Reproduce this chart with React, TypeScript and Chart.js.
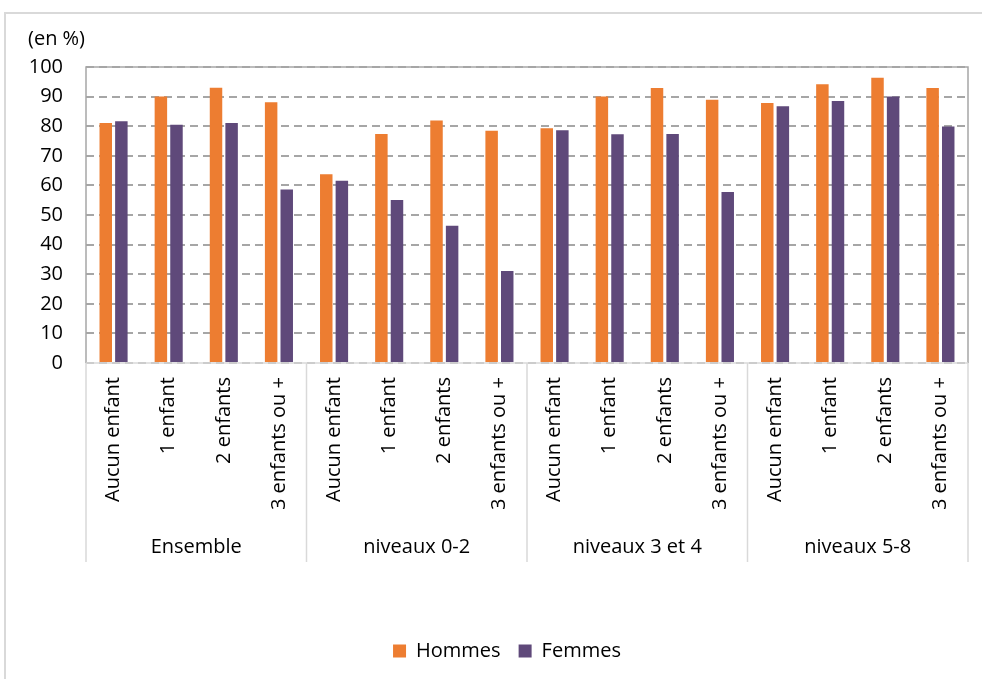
import React, { useEffect, useRef } from "react";
import { Chart, registerables } from "chart.js";

Chart.register(...registerables);

// Sub-categories (number of children), repeated within each education group
const childLabels = ["Aucun enfant", "1 enfant", "2 enfants", "3 enfants ou +"];
const groupLabels = ["Ensemble", "niveaux 0-2", "niveaux 3 et 4", "niveaux 5-8"];

// Employment rates in %, one value per (group, children) pair
const hommes = [
  81.1, 90.0, 93.0, 88.1,
  63.8, 77.4, 81.9, 78.5,
  79.3, 90.0, 92.9, 88.9,
  87.8, 94.2, 96.4, 92.9,
];
const femmes = [
  81.7, 80.5, 81.1, 58.6,
  61.6, 55.1, 46.4, 31.1,
  78.6, 77.3, 77.4, 57.8,
  86.7, 88.5, 90.0, 79.9,
];

const yTicksMax = 100;
const yTicksStep = 10;
const unitLabel = "(en %)";

const ORANGE = "#ED7D31";
const PURPLE = "#5F497A";
const FONT = "'Open Sans', sans-serif";

const decorations = {
  id: "decorations",
  afterLayout(chart: any) {
    // centre the legend on the framed area rather than the whole canvas
    const lg = chart.legend;
    if (lg) {
      lg.left += 23;
      lg.right += 23;
    }
  },
  afterDraw(chart: any) {
    const { ctx, chartArea } = chart;
    const { left, right, top, bottom } = chartArea;
    ctx.save();

    // outer frame of the chart
    ctx.strokeStyle = "#D9D9D9";
    ctx.lineWidth = 2;
    ctx.beginPath();
    ctx.moveTo(5, 690);
    ctx.lineTo(5, 13);
    ctx.lineTo(990, 13);
    ctx.stroke();

    // unit label
    ctx.fillStyle = "#000";
    ctx.font = `20px ${FONT}`;
    ctx.textAlign = "left";
    ctx.textBaseline = "middle";
    ctx.fillText(unitLabel, 28, 39);

    // plot frame
    ctx.strokeStyle = "#A6A6A6";
    ctx.lineWidth = 1.5;
    ctx.beginPath();
    ctx.moveTo(left, bottom);
    ctx.lineTo(left, top);
    ctx.lineTo(right, top);
    ctx.lineTo(right, bottom);
    ctx.stroke();

    // category axis: baseline, group separators and group names
    const sepBottom = 562;
    ctx.strokeStyle = "#D9D9D9";
    ctx.lineWidth = 1.5;
    ctx.beginPath();
    ctx.moveTo(left, bottom);
    ctx.lineTo(right, bottom);
    const groupW = (right - left) / groupLabels.length;
    for (let g = 0; g <= groupLabels.length; g++) {
      const x = left + g * groupW;
      ctx.moveTo(x, bottom);
      ctx.lineTo(x, sepBottom);
    }
    ctx.stroke();

    ctx.fillStyle = "#000";
    ctx.font = `20px ${FONT}`;
    ctx.textAlign = "center";
    ctx.textBaseline = "middle";
    groupLabels.forEach((lbl, g) => {
      ctx.fillText(lbl, left + (g + 0.5) * groupW, 547);
    });
    ctx.restore();
  },
};

export default function App() {
  const canvasRef = useRef<HTMLCanvasElement | null>(null);

  useEffect(() => {
    document.body.style.margin = "0";
    const labels: string[] = [];
    groupLabels.forEach(() => childLabels.forEach((c) => labels.push(c)));

    const chart = new Chart(canvasRef.current as HTMLCanvasElement, {
      type: "bar",
      data: {
        labels,
        datasets: [
          {
            label: "Hommes",
            data: hommes,
            backgroundColor: ORANGE,
            borderWidth: 0,
            categoryPercentage: 0.566,
            barPercentage: 0.8,
          },
          {
            label: "Femmes",
            data: femmes,
            backgroundColor: PURPLE,
            borderWidth: 0,
            categoryPercentage: 0.566,
            barPercentage: 0.8,
          },
        ],
      },
      options: {
        responsive: false,
        animation: false,
        layout: { padding: { top: 67, right: 14, left: 0, bottom: 8 } },
        plugins: {
          legend: {
            position: "bottom",
            labels: {
              boxWidth: 13,
              boxHeight: 13,
              padding: 18,
              color: "#000",
              font: { family: FONT, size: 20 },
            },
          },
          tooltip: { enabled: false },
        },
        scales: {
          x: {
            grid: { display: false, drawTicks: false },
            border: { display: false },
            ticks: {
              autoSkip: false,
              minRotation: 90,
              maxRotation: 90,
              padding: 14,
              color: "#000",
              font: { family: FONT, size: 20 },
            },
            afterFit(scale: any) {
              scale.height = 260;
            },
          },
          y: {
            min: 0,
            max: yTicksMax,
            grid: { color: "#A6A6A6", lineWidth: 2, drawTicks: false },
            border: { display: false, dash: [8, 5] },
            ticks: {
              stepSize: yTicksStep,
              padding: 23,
              color: "#000",
              font: { family: FONT, size: 20 },
            },
            afterFit(scale: any) {
              scale.width = 86;
            },
          },
        },
      },
      plugins: [decorations],
    });
    return () => chart.destroy();
  }, []);

  return <canvas ref={canvasRef} width={982} height={679} style={{ display: "block" }} />;
}
